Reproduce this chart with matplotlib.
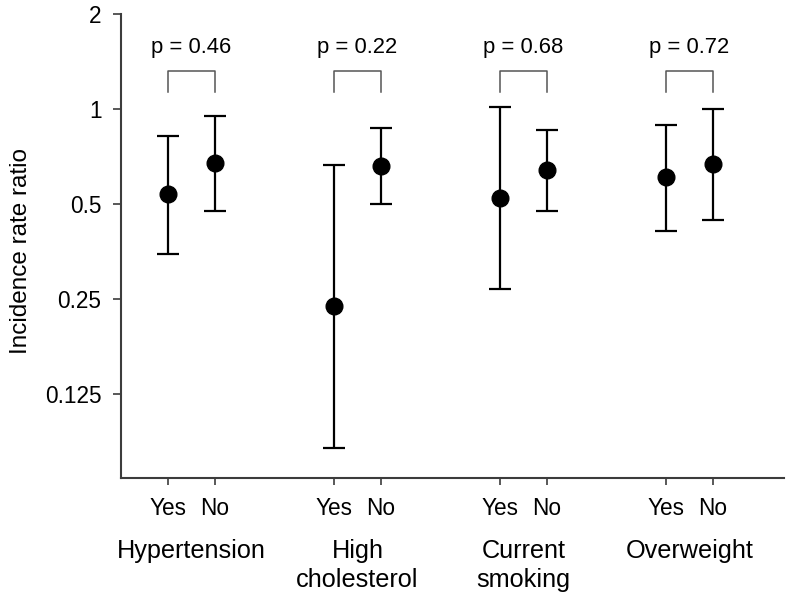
import matplotlib
matplotlib.use("Agg")
import matplotlib.pyplot as plt
import numpy as np

# Incidence rate ratios with 95% CI
groups = ["Hypertension", "High\ncholesterol", "Current\nsmoking", "Overweight"]
p_values = ["p = 0.46", "p = 0.22", "p = 0.68", "p = 0.72"]

irr_yes = [0.538, 0.238, 0.524, 0.609]
lo_yes = [0.346, 0.0843, 0.268, 0.411]
hi_yes = [0.825, 0.666, 1.016, 0.891]

irr_no = [0.677, 0.663, 0.642, 0.671]
lo_no = [0.477, 0.500, 0.476, 0.445]
hi_no = [0.951, 0.871, 0.861, 1.000]

y_ticks = [0.125, 0.25, 0.5, 1, 2]
y_tick_labels = ["0.125", "0.25", "0.5", "1", "2"]

plt.rcParams["font.family"] = ["Liberation Sans", "DejaVu Sans"]

fig = plt.figure(figsize=(7.91, 5.98), dpi=100)
ax = fig.add_axes([0.153, 0.2012, 0.838, 0.7746])

group_step = 3.53
x_yes = np.arange(len(groups)) * group_step
x_no = x_yes + 1

irr_yes = np.array(irr_yes)
irr_no = np.array(irr_no)
err_yes = [irr_yes - np.array(lo_yes), np.array(hi_yes) - irr_yes]
err_no = [irr_no - np.array(lo_no), np.array(hi_no) - irr_no]

style = dict(fmt="o", color="black", ms=12, capsize=8, elinewidth=1.6,
             capthick=1.6, zorder=3)
ax.errorbar(x_yes, irr_yes, yerr=err_yes, **style)
ax.errorbar(x_no, irr_no, yerr=err_no, **style)

# comparison brackets and p-values
br_low, br_high = 1.131, 1.319
for xy, xn, p in zip(x_yes, x_no, p_values):
    ax.plot([xy, xy, xn, xn], [br_low, br_high, br_high, br_low],
            color="#555555", lw=1.1)
    ax.text((xy + xn) / 2, 1.57, p, ha="center", va="center", fontsize=15.8)

ax.set_yscale("log", base=2)
ax.set_ylim(0.0677, 2)
ax.set_xlim(-1.0, 13.1)
ax.set_yticks(y_ticks)
ax.set_yticklabels(y_tick_labels)
ax.yaxis.set_minor_locator(matplotlib.ticker.NullLocator())

xt = np.ravel(np.column_stack([x_yes, x_no]))
ax.set_xticks(xt)
ax.set_xticklabels(["Yes", "No"] * len(groups))

for s in ["top", "right"]:
    ax.spines[s].set_visible(False)
for s in ["left", "bottom"]:
    ax.spines[s].set_color("#3c3c3c")
    ax.spines[s].set_linewidth(1.5)

ax.tick_params(axis="y", length=6, width=1.2, color="#3c3c3c",
               labelsize=16.3, pad=8)
ax.tick_params(axis="x", length=5, width=1.2, color="#3c3c3c",
               labelsize=16.3, pad=9)

# group labels under each Yes/No pair
for xy, xn, g in zip(x_yes, x_no, groups):
    ax.text((xy + xn) / 2, -0.133, g, transform=ax.get_xaxis_transform(),
            ha="center", va="top", fontsize=18.2, linespacing=1.25)

ax.text(-0.151, 0.49, "Incidence rate ratio", transform=ax.transAxes,
        rotation=90, ha="center", va="center", fontsize=17.5)

fig.savefig("out.png", dpi=100)
